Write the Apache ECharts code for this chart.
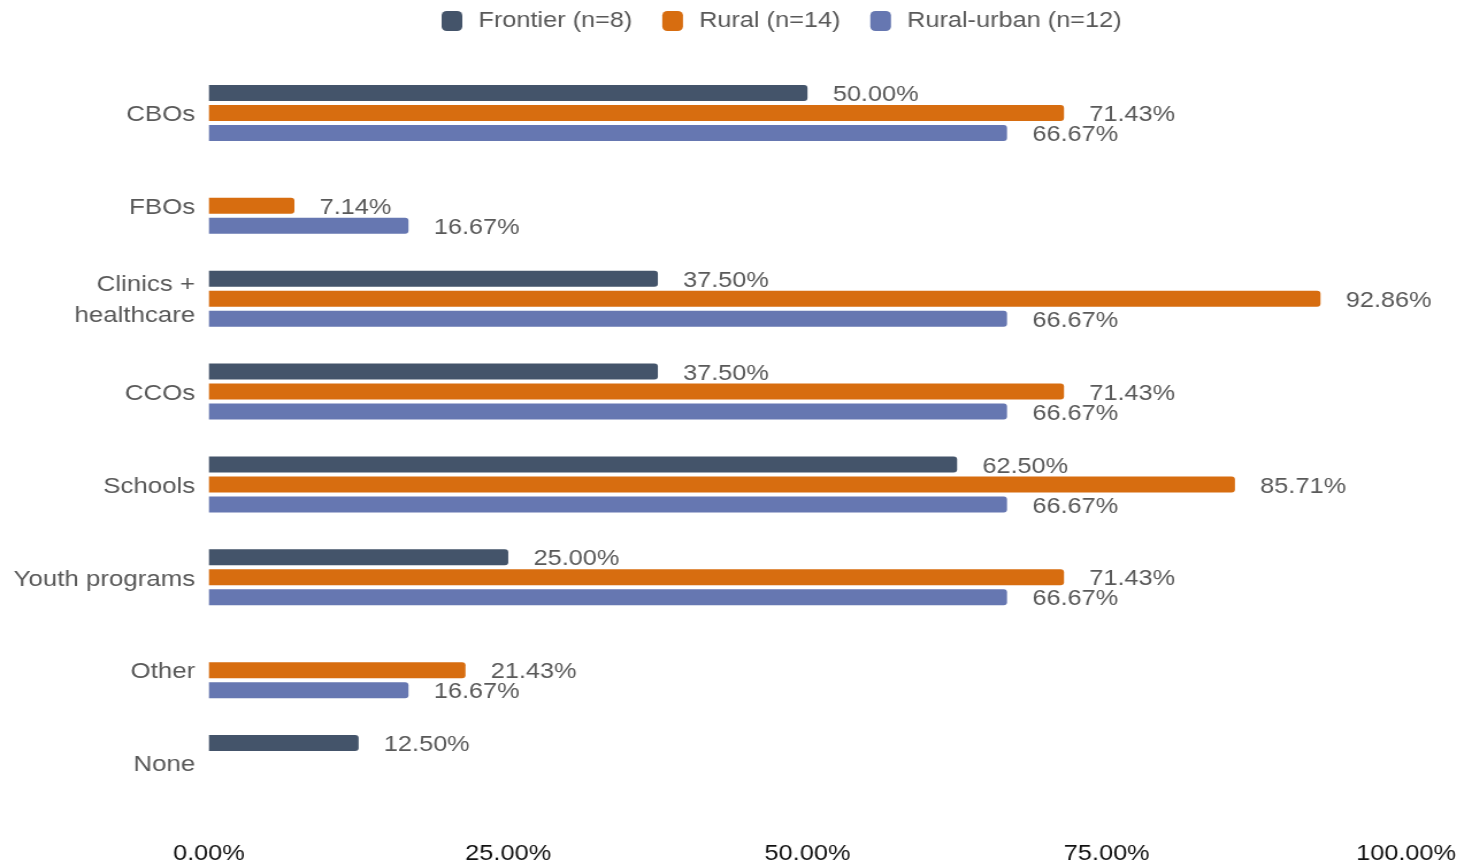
<!DOCTYPE html>
<html>
<head>
<meta charset="utf-8">
<script src="https://cdn.jsdelivr.net/npm/echarts@6/dist/echarts.min.js"></script>
<style>
  html, body { margin: 0; padding: 0; background: #fff; overflow: hidden; }
  /* chart is laid out narrower and widened horizontally for its wide lettering */
  #chart { width: 1274px; height: 868px; transform: scaleX(1.15); transform-origin: 0 0; }
</style>
</head>
<body>
<div id="chart"></div>
<script>
const categories = ['CBOs', 'FBOs', 'Clinics +\nhealthcare', 'CCOs', 'Schools', 'Youth programs', 'Other', 'None'];
const seriesNames = ['Frontier (n=8)', 'Rural (n=14)', 'Rural-urban (n=12)'];
const frontier   = [50.00, null, 37.50, 37.50, 62.50, 25.00, null, 12.50];
const rural      = [71.43, 7.14, 92.86, 71.43, 85.71, 71.43, 21.43, null];
const ruralUrban = [66.67, 16.67, 66.67, 66.67, 66.67, 66.67, 16.67, null];
const xTicks = [0, 25, 50, 75, 100];

const colors = ['#44546a', '#d76d10', '#6677b1'];
const FONT = "'Liberation Sans', Arial, sans-serif";

function pct(v) { return Number(v).toFixed(2) + '%'; }

function barSeries(name, data, color) {
  return {
    name: name,
    type: 'bar',
    data: data,
    barWidth: 16,
    barGap: '25%',
    itemStyle: { color: color, borderRadius: [0, 3, 3, 0] },
    label: {
      show: true,
      position: 'right',
      distance: 22,
      offset: [0, 2],
      fontFamily: FONT,
      fontSize: 22,
      color: '#595959',
      formatter: p => pct(p.value)
    }
  };
}

const chart = echarts.init(document.getElementById('chart'));
chart.setOption({
  animation: false,
  textStyle: { fontFamily: FONT },
  legend: {
    data: seriesNames,
    left: 379,
    top: 5,
    itemWidth: 18,
    itemHeight: 20,
    itemGap: 26,
    icon: 'roundRect',
    textStyle: { fontFamily: FONT, fontSize: 22, color: '#595959', padding: [0, 0, 0, 9] }
  },
  grid: { left: 181.7, right: 51.4, top: 66.5, bottom: 58.5, containLabel: false },
  xAxis: {
    type: 'value',
    min: xTicks[0],
    max: xTicks[xTicks.length - 1],
    interval: xTicks[1] - xTicks[0],
    axisLine: { show: false },
    axisTick: { show: false },
    splitLine: { show: false },
    axisLabel: { fontFamily: FONT, fontSize: 22, color: '#111', margin: 33, formatter: v => pct(v) }
  },
  yAxis: {
    type: 'category',
    data: categories,
    inverse: true,
    axisLine: { show: false },
    axisTick: { show: false },
    axisLabel: {
      fontFamily: FONT, fontSize: 22.5, color: '#595959', margin: 12,
      formatter: v => '{c|' + v + '}',
      rich: { c: { fontFamily: FONT, fontSize: 22.5, color: '#595959', lineHeight: 31, padding: [4, 0, 0, 0] } }
    }
  },
  series: [
    barSeries(seriesNames[0], frontier, colors[0]),
    barSeries(seriesNames[1], rural, colors[1]),
    barSeries(seriesNames[2], ruralUrban, colors[2])
  ]
});
</script>
</body>
</html>
